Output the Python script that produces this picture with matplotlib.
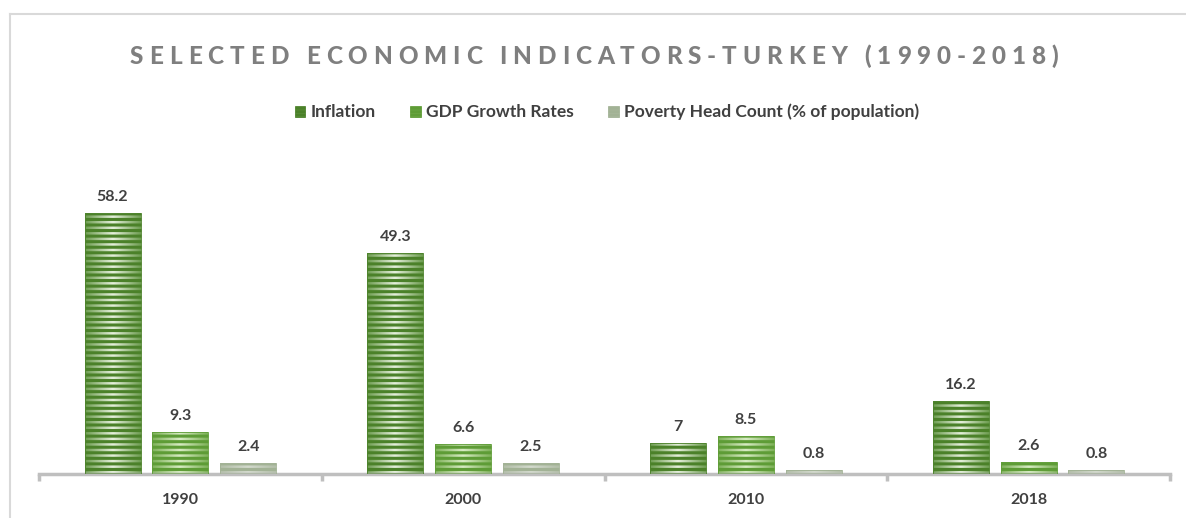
import numpy as np
import matplotlib
matplotlib.use("Agg")
import matplotlib.pyplot as plt
from matplotlib.patches import Patch, Rectangle
from matplotlib.colors import LinearSegmentedColormap

plt.rcParams['font.family'] = ['Lato', 'DejaVu Sans']
plt.rcParams['hatch.linewidth'] = 2.2

years = ["1990", "2000", "2010", "2018"]
series = ["Inflation", "GDP Growth Rates", "Poverty Head Count (% of population)"]
inflation = [58.2, 49.3, 7, 16.2]
gdp = [9.3, 6.6, 8.5, 2.6]
poverty = [2.4, 2.5, 0.8, 0.8]
labels = [["58.2", "49.3", "7", "16.2"],
          ["9.3", "6.6", "8.5", "2.6"],
          ["2.4", "2.5", "0.8", "0.8"]]

# edge / centre colours for the gradient, plus stripe colour
styles = [
    ("#6f9e52", "#e6f0dc", "#4b8129"),
    ("#7fb25a", "#d8ecc4", "#5e9c36"),
    ("#b3bfa9", "#d3dacd", "#a2b295"),
]

fig = plt.figure(figsize=(11.86, 5.18), dpi=100)
ax = fig.add_axes([39 / 1186, 1 - 474 / 518, 1131 / 1186, 324 / 518])

x = np.arange(len(years))
width = 0.198
offs = [-0.24, 0.0, 0.24]
values = [inflation, gdp, poverty]

for k, vals in enumerate(values):
    edge, centre, stripe = styles[k]
    cmap = LinearSegmentedColormap.from_list("g%d" % k, [edge, centre, edge])
    grad = np.linspace(0, 1, 64).reshape(1, -1)
    bars = ax.bar(x + offs[k], vals, width, facecolor="none", edgecolor=stripe,
                  hatch="---", linewidth=0.6, zorder=3)
    for b in bars:
        x0, y0 = b.get_x(), b.get_y()
        w, h = b.get_width(), b.get_height()
        im = ax.imshow(grad, cmap=cmap, aspect="auto", extent=(x0, x0 + w, y0, y0 + h),
                       zorder=2, interpolation="bicubic")
        clip = Rectangle((x0, y0), w, h, transform=ax.transData)
        im.set_clip_path(clip)
    for xi, v, t in zip(x + offs[k], vals, labels[k]):
        ax.annotate(t, (xi, v), xytext=(0, 6.5), textcoords="offset points",
                    ha="center", va="bottom", fontsize=11.5, fontweight="bold",
                    color="#404040")

ax.set_xlim(-0.5, 3.5)
ax.set_ylim(0, 72.2)
ax.set_yticks([])
ax.set_xticks(x)
ax.set_xticklabels(years, fontsize=11.5, fontweight="bold", color="#404040")
ax.tick_params(axis="x", length=0, pad=14)
for s in ["top", "right", "left"]:
    ax.spines[s].set_visible(False)
ax.spines["bottom"].set_color("#bfbfbf")
ax.spines["bottom"].set_linewidth(2.5)
ax.set_xticks(np.arange(-0.5, 4.0, 1.0), minor=True)
ax.tick_params(axis="x", which="minor", length=5, width=2.5, color="#bfbfbf")

# legend
handles = []
for k in range(3):
    edge, centre, stripe = styles[k]
    handles.append(Patch(facecolor=edge, edgecolor=stripe, hatch="-----", linewidth=0.5))
fig.legend(handles, series, loc="center", bbox_to_anchor=(607 / 1186, 1 - 112 / 518),
           ncol=3, frameon=False, handlelength=0.6, handleheight=0.6, handletextpad=0.3,
           columnspacing=2.0, prop={"weight": "bold", "size": 12.5}, labelcolor="#404040")

# letter-spaced title
title = "SELECTED ECONOMIC INDICATORS-TURKEY (1990-2018)"
tsize = 17.5
tweight = "black"
renderer = fig.canvas.get_renderer()


def tw(s):
    t = fig.text(0, 0, s + "|", fontsize=tsize, fontweight=tweight)
    w = t.get_window_extent(renderer).width
    t.remove()
    return w


bar_w = tw("")
pos = [tw(title[:i]) - bar_w for i in range(len(title) + 1)]
total_target = 928.0
spacing = (total_target - pos[-1]) / (len(title) - 1)
left = 594 - total_target / 2
for i, ch in enumerate(title):
    if ch == " ":
        continue
    fig.text((left + pos[i] + i * spacing) / 1186, 1 - 56 / 518, ch, fontsize=tsize,
             fontweight=tweight, color="#7f7f7f", ha="left", va="center")

# partial outer frame
fig.add_artist(plt.Line2D([10 / 1186, 10 / 1186], [0, 1 - 14 / 518], color="#d9d9d9", lw=1.5))
fig.add_artist(plt.Line2D([10 / 1186, 1], [1 - 14 / 518, 1 - 14 / 518], color="#d9d9d9", lw=1.5))

fig.savefig("out.png", dpi=100)
